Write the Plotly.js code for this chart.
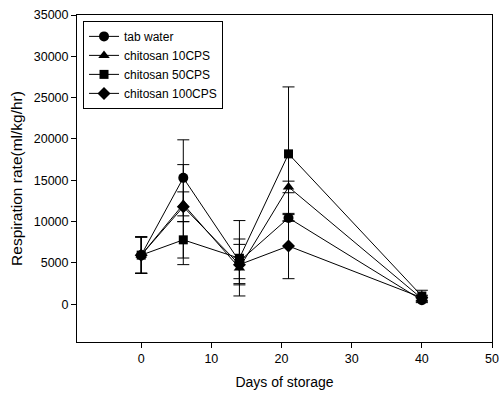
<!DOCTYPE html>
<html>
<head>
<meta charset="utf-8">
<script src="https://cdn.plot.ly/plotly-3.0.1.min.js"></script>
<style>
  html, body { margin: 0; padding: 0; background: #fff; }
  #chart { width: 499px; height: 397px; }
</style>
</head>
<body>
<div id="chart"></div>
<script>
// Storage days sampled
const days = [0, 6, 14, 21, 40];

// Mean respiration rate (ml/kg/hr) per treatment
const tabWater    = [5950, 15300, 5200, 10450, 500];
const chitosan10  = [5950, 12100, 4400, 14200, 700];
const chitosan50  = [5950, 7800, 5570, 18200, 1000];
const chitosan100 = [5950, 11800, 4800, 7050, 800];

// Error bars (upper / lower)
const tabWaterErrUp    = [2200, 4600, 2700, 400, 300];
const tabWaterErrDn    = [2200, 4600, 2700, 400, 300];
const chitosan10ErrUp  = [2200, 4800, 1300, 700, 300];
const chitosan10ErrDn  = [2200, 7300, 1300, 700, 300];
const chitosan50ErrUp  = [2200, 2200, 4560, 8100, 700];
const chitosan50ErrDn  = [2200, 2200, 4560, 8100, 700];
const chitosan100ErrUp = [2200, 1800, 2450, 3950, 300];
const chitosan100ErrDn = [2200, 1800, 2450, 3950, 300];

const seriesNames = ['tab water', 'chitosan 10CPS', 'chitosan 50CPS', 'chitosan 100CPS'];

const xTicks = [0, 10, 20, 30, 40, 50];
const yTicks = [0, 5000, 10000, 15000, 20000, 25000, 30000, 35000];

function series(name, y, up, dn, symbol, size) {
  return {
    x: days, y: y, name: name, type: 'scatter', mode: 'lines+markers',
    line: { color: '#000', width: 1 },
    marker: { symbol: symbol, size: size, color: '#000', line: { width: 0 } },
    error_y: { type: 'data', symmetric: false, array: up, arrayminus: dn,
               color: '#000', thickness: 1, width: 6 }
  };
}

const data = [
  series(seriesNames[0], tabWater, tabWaterErrUp, tabWaterErrDn, 'circle', 10),
  series(seriesNames[1], chitosan10, chitosan10ErrUp, chitosan10ErrDn, 'triangle-up', 10),
  series(seriesNames[2], chitosan50, chitosan50ErrUp, chitosan50ErrDn, 'square', 9),
  series(seriesNames[3], chitosan100, chitosan100ErrUp, chitosan100ErrDn, 'diamond', 10)
];

const font = { family: 'Liberation Sans, Arial, sans-serif', color: '#000' };

const layout = {
  width: 499, height: 397,
  margin: { l: 77, r: 7, t: 15, b: 55 },
  paper_bgcolor: '#fff', plot_bgcolor: '#fff',
  font: Object.assign({ size: 12.5 }, font),
  showlegend: true,
  legend: {
    x: 0.0145, y: 0.982, xanchor: 'left', yanchor: 'top',
    bgcolor: '#fff', bordercolor: '#000', borderwidth: 1,
    font: Object.assign({ size: 12 }, font),
    itemwidth: 30, tracegroupgap: 0
  },
  xaxis: {
    range: [-9.15, 50], tickvals: xTicks, ticktext: xTicks.map(String),
    showgrid: false, zeroline: false,
    showline: true, linecolor: '#000', linewidth: 1, mirror: true,
    ticks: 'outside', ticklen: 5, tickcolor: '#000',
    tickfont: Object.assign({ size: 12.5 }, font),
    title: { text: 'Days of storage', font: Object.assign({ size: 14 }, font), standoff: 12 },
    automargin: false
  },
  yaxis: {
    range: [-4560, 35000], tickvals: yTicks, ticktext: yTicks.map(String),
    showgrid: false, zeroline: false,
    showline: true, linecolor: '#000', linewidth: 1, mirror: true,
    ticks: 'outside', ticklen: 5, tickcolor: '#000',
    tickfont: Object.assign({ size: 12.5 }, font),
    title: { text: 'Respiration rate(ml/kg/hr)', font: Object.assign({ size: 15.5 }, font), standoff: 7 },
    automargin: false
  }
};

Plotly.newPlot('chart', data, layout, { displayModeBar: false, staticPlot: true });
</script>
</body>
</html>
